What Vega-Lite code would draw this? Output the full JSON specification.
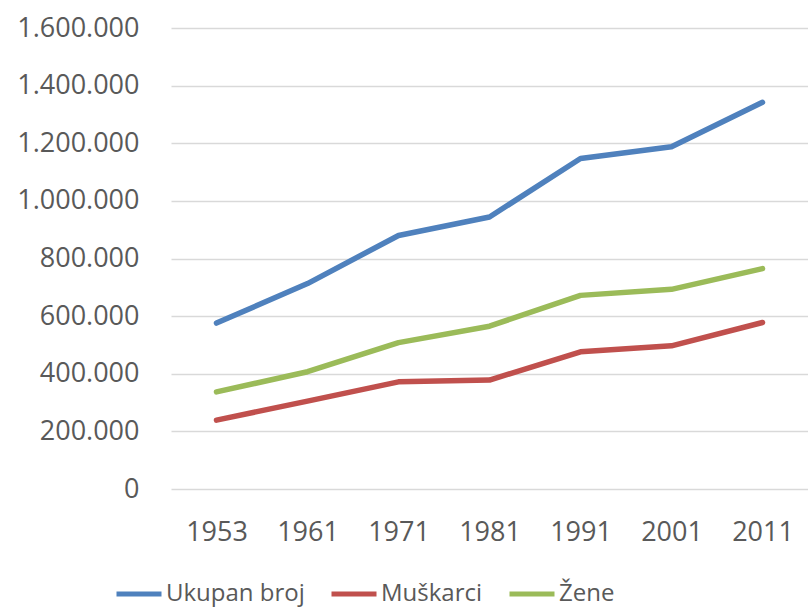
{
  "$schema": "https://vega.github.io/schema/vega-lite/v6.json",
  "width": 637,
  "height": 461,
  "autosize": {"type": "none"},
  "padding": {"left": 171, "top": 28, "right": 0, "bottom": 119},
  "background": "white",
  "config": {"view": {"stroke": null}, "font": "Open Sans"},
  "data": {"values": [
    {"year": "1953", "series": "Ukupan broj", "value": 576000},
    {"year": "1961", "series": "Ukupan broj", "value": 713000},
    {"year": "1971", "series": "Ukupan broj", "value": 880000},
    {"year": "1981", "series": "Ukupan broj", "value": 944000},
    {"year": "1991", "series": "Ukupan broj", "value": 1147000},
    {"year": "2001", "series": "Ukupan broj", "value": 1188000},
    {"year": "2011", "series": "Ukupan broj", "value": 1342000},
    {"year": "1953", "series": "Muškarci", "value": 239000},
    {"year": "1961", "series": "Muškarci", "value": 305000},
    {"year": "1971", "series": "Muškarci", "value": 372000},
    {"year": "1981", "series": "Muškarci", "value": 378000},
    {"year": "1991", "series": "Muškarci", "value": 476000},
    {"year": "2001", "series": "Muškarci", "value": 497000},
    {"year": "2011", "series": "Muškarci", "value": 578000},
    {"year": "1953", "series": "Žene", "value": 337000},
    {"year": "1961", "series": "Žene", "value": 407000},
    {"year": "1971", "series": "Žene", "value": 508000},
    {"year": "1981", "series": "Žene", "value": 565000},
    {"year": "1991", "series": "Žene", "value": 672000},
    {"year": "2001", "series": "Žene", "value": 693000},
    {"year": "2011", "series": "Žene", "value": 765000}
  ]},
  "mark": {"type": "line", "strokeWidth": 5.5, "strokeCap": "round", "strokeJoin": "round"},
  "encoding": {
    "x": {
      "field": "year", "type": "ordinal",
      "scale": {"type": "point", "padding": 0.5},
      "axis": {"title": null, "labelAngle": 0, "domain": false, "ticks": false, "grid": false,
               "labelFontSize": 27, "labelColor": "#595959", "labelPadding": 30}
    },
    "y": {
      "field": "value", "type": "quantitative",
      "scale": {"domain": [0, 1600000], "nice": false},
      "axis": {"title": null, "values": [0, 200000, 400000, 600000, 800000, 1000000, 1200000, 1400000, 1600000],
               "labelExpr": "replace(format(datum.value, ','), regexp(',', 'g'), '.')",
               "domain": false, "ticks": false, "gridColor": "#d9d9d9", "gridWidth": 1.5,
               "labelFontSize": 27, "labelColor": "#595959", "labelPadding": 32}
    },
    "color": {
      "field": "series", "type": "nominal",
      "scale": {"domain": ["Ukupan broj", "Muškarci", "Žene"], "range": ["#4F81BD", "#C0504D", "#9BBB59"]},
      "legend": {"title": null, "orient": "none", "direction": "horizontal", "legendX": -57, "legendY": 541,
                 "symbolType": "stroke", "symbolSize": 2025, "symbolStrokeWidth": 5,
                 "labelFontSize": 24, "labelColor": "#595959", "labelOffset": 2, "columnPadding": 16}
    }
  }
}
